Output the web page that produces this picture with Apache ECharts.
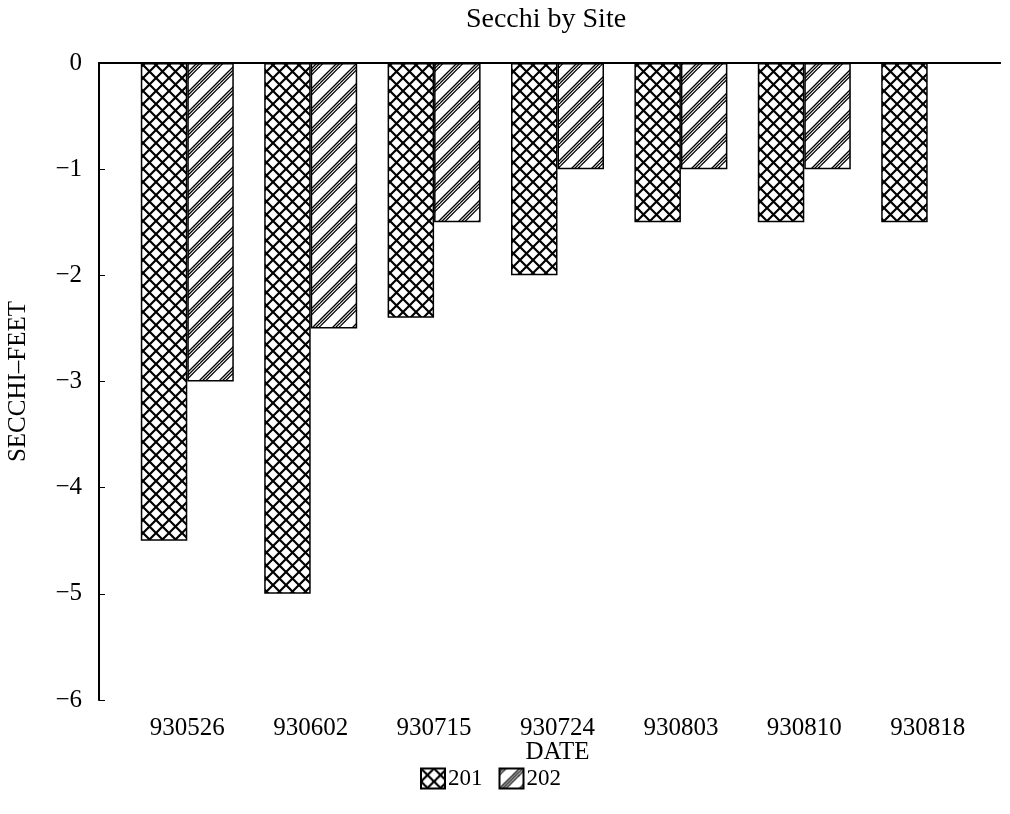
<!DOCTYPE html>
<html>
<head>
<meta charset="utf-8">
<script src="https://cdn.jsdelivr.net/npm/echarts@6/dist/echarts.min.js"></script>
<style>
  html, body { margin: 0; padding: 0; background: #fff; }
  #chart { width: 1010px; height: 814px; }
</style>
</head>
<body>
<div id="chart"></div>
<script>
// Sampling dates and Secchi depth (feet, negative = below surface) per site
var dates = ['930526', '930602', '930715', '930724', '930803', '930810', '930818'];
var site201 = [-4.5, -5, -2.4, -2, -1.5, -1.5, -1.5];
var site202 = [-3, -2.5, -1.5, -1, -1, -1, null];
var seriesNames = ['201', '202'];

var FONT = 'Liberation Serif';

// Cross-hatch fill (diamond grid)
function crossHatch() {
  var s = 13;
  var c = document.createElement('canvas');
  c.width = s; c.height = s;
  var g = c.getContext('2d');
  g.fillStyle = '#fff';
  g.fillRect(0, 0, s, s);
  g.strokeStyle = '#000';
  g.lineWidth = 2.2;
  g.beginPath();
  g.moveTo(-1, -1); g.lineTo(s + 1, s + 1);
  g.moveTo(s + 1, -1); g.lineTo(-1, s + 1);
  g.stroke();
  return c;
}

// Forward diagonal fill made of groups of three thin lines
function diagHatch() {
  var s = 20;
  var c = document.createElement('canvas');
  c.width = s; c.height = s;
  var g = c.getContext('2d');
  g.fillStyle = '#fff';
  g.fillRect(0, 0, s, s);
  g.strokeStyle = '#000';
  g.lineWidth = 1.3;
  [0, 3.2, 6.4].forEach(function (d) {
    [-s, 0, s].forEach(function (k) {
      var cc = s + d + k;
      g.beginPath();
      g.moveTo(cc + 2, -2);
      g.lineTo(cc - s - 2, s + 2);
      g.stroke();
    });
  });
  return c;
}

var fill201 = { image: crossHatch(), repeat: 'repeat' };
var fill202 = { image: diagHatch(), repeat: 'repeat' };

var chart = echarts.init(document.getElementById('chart'), null, { renderer: 'canvas' });

var labelStyle = { fontFamily: FONT, fontSize: 25, color: '#000' };

chart.setOption({
  backgroundColor: '#fff',
  animation: false,
  title: {
    text: 'Secchi by Site',
    left: 541, top: 1, textAlign: 'center',
    textStyle: { fontFamily: FONT, fontSize: 28, fontWeight: 'normal', color: '#000' }
  },
  legend: {
    data: seriesNames,
    left: 420, top: 767, padding: 0,
    icon: 'rect',
    itemWidth: 24, itemHeight: 20, itemGap: 16,
    textStyle: { fontFamily: FONT, fontSize: 23, color: '#000', padding: [0, 0, 0, -2] }
  },
  grid: [
    { left: 99, right: 10, top: 63, bottom: 114, outerBoundsMode: 'none', containLabel: false },
    { left: 125.6, right: 20.6, top: 63, bottom: 114, outerBoundsMode: 'none', containLabel: false }
  ],
  xAxis: [
    { gridIndex: 0, type: 'value', min: 0, max: 1, position: 'bottom',
      axisLine: { show: true, lineStyle: { color: '#000', width: 2 } },
      axisTick: { show: false }, axisLabel: { show: false }, splitLine: { show: false } },
    { gridIndex: 0, type: 'value', min: 0, max: 1, position: 'top',
      axisLine: { show: true, lineStyle: { color: '#000', width: 2 } },
      axisTick: { show: false }, axisLabel: { show: false }, splitLine: { show: false } },
    { gridIndex: 1, type: 'category', data: dates, position: 'bottom',
      axisLine: { show: false }, axisTick: { show: false },
      axisLabel: Object.assign({ margin: 16 }, labelStyle),
      name: 'DATE', nameLocation: 'middle', nameGap: 40, nameMoveOverlap: false,
      nameTextStyle: labelStyle }
  ],
  yAxis: [
    { gridIndex: 0, type: 'value', min: -6, max: 0, interval: 1,
      axisLine: { show: true, lineStyle: { color: '#000', width: 2 } },
      axisTick: { show: true, inside: true, length: 6, lineStyle: { color: '#000', width: 1 } },
      axisLabel: Object.assign({ margin: 17,
        formatter: function (v) { return v < 0 ? '\u2212' + Math.abs(v) : String(v); } }, labelStyle),
      splitLine: { show: false },
      name: 'SECCHI\u2013FEET', nameLocation: 'middle', nameGap: 68, nameRotate: 90,
      nameTextStyle: labelStyle },
    { gridIndex: 1, type: 'value', min: -6, max: 0, interval: 1, show: false }
  ],
  series: [
    { name: seriesNames[0], type: 'bar', xAxisIndex: 2, yAxisIndex: 1,
      data: site201, barWidth: 46.5, barGap: '0%',
      itemStyle: { color: fill201, borderColor: '#000', borderWidth: 1.5 } },
    { name: seriesNames[1], type: 'bar', xAxisIndex: 2, yAxisIndex: 1,
      data: site202, barWidth: 46.5, barGap: '0%',
      itemStyle: { color: fill202, borderColor: '#000', borderWidth: 1.5 } }
  ]
});
</script>
</body>
</html>
